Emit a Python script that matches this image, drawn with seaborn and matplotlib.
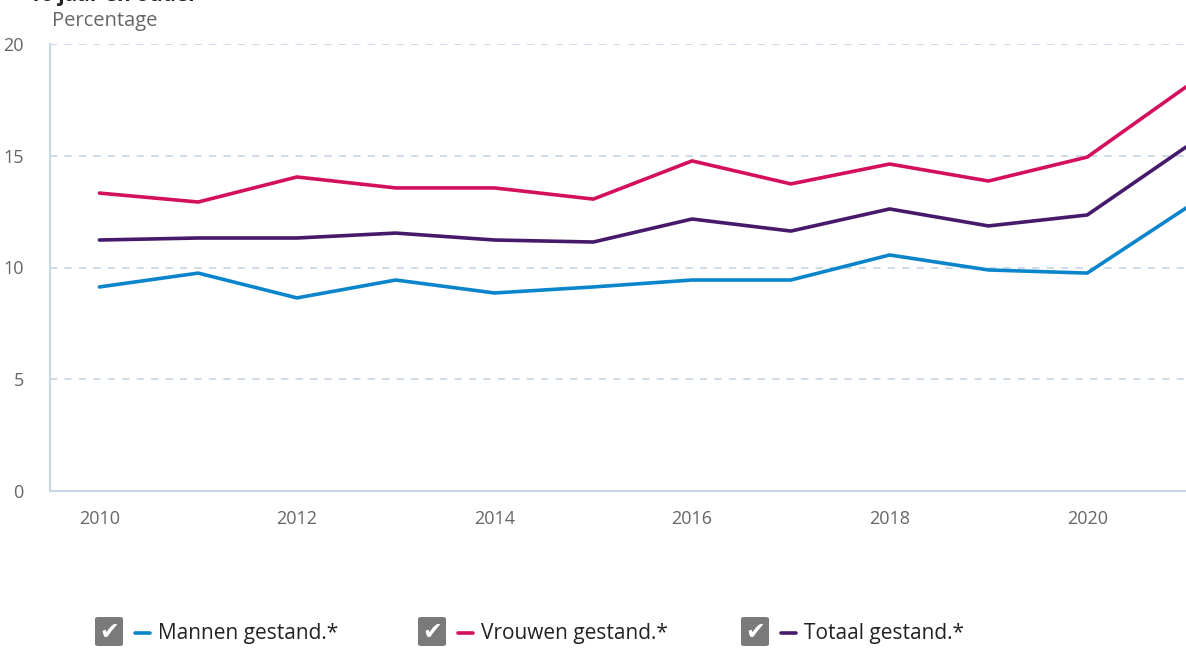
import numpy as np
import pandas as pd
import seaborn as sns
import matplotlib.pyplot as plt
from matplotlib.patches import FancyBboxPatch
from matplotlib.lines import Line2D

# Data
years = list(range(2010, 2022))
mannen = [9.13, 9.75, 8.64, 9.44, 8.86, 9.13, 9.44, 9.44, 10.56, 9.89, 9.75, 12.66]
vrouwen = [13.33, 12.93, 14.05, 13.56, 13.56, 13.06, 14.77, 13.74, 14.63, 13.87, 14.94, 18.08]
totaal = [11.23, 11.32, 11.32, 11.54, 11.23, 11.14, 12.17, 11.63, 12.62, 11.86, 12.35, 15.39]
series_names = ['Mannen gestand.*', 'Vrouwen gestand.*', 'Totaal gestand.*']
colors = ['#0a85cc', '#d30f5e', '#47196b']
y_ticks = [0, 5, 10, 15, 20]
x_ticks = [2010, 2012, 2014, 2016, 2018, 2020]

df = pd.DataFrame({'jaar': years, series_names[0]: mannen,
                   series_names[1]: vrouwen, series_names[2]: totaal})
long = df.melt(id_vars='jaar', var_name='serie', value_name='pct')

sns.set_style('white')
plt.rcParams['font.family'] = ['Open Sans', 'DejaVu Sans']

fig = plt.figure(figsize=(11.86, 6.49), dpi=100)
ax = fig.add_axes([50 / 1186, 158 / 649, 1 - 50 / 1186, 447 / 649])

sns.lineplot(data=long, x='jaar', y='pct', hue='serie', palette=colors,
             hue_order=series_names, linewidth=2.6, ax=ax, legend=False)

ax.set_xlim(2009.5, 2021.0)
ax.set_ylim(0, 20)
ax.set_yticks(y_ticks)
ax.set_xticks(x_ticks)
ax.set_xlabel('')
ax.set_ylabel('')

grid_c = '#c9d8e6'
for v in y_ticks[1:]:
    ax.axhline(v, color=grid_c, lw=1.3, ls=(0, (4, 4)), zorder=0)

for s in ['top', 'right']:
    ax.spines[s].set_visible(False)
for s in ['left', 'bottom']:
    ax.spines[s].set_color(grid_c)
    ax.spines[s].set_linewidth(1.5)

ax.tick_params(axis='y', length=0, pad=19, labelsize=13, labelcolor='#666666')
ax.tick_params(axis='x', length=5, width=1.5, color=grid_c, pad=11.5,
               labelsize=13, labelcolor='#666666', direction='inout')

fig.text(52 / 1186, 1 - 21 / 649, 'Percentage', fontsize=14.5, color='#666666',
         va='center', ha='left')
fig.text(198 / 1186, 1 - 1.5 / 649, '16 jaar en ouder', fontsize=15, fontweight='bold',
         color='#222222', va='baseline', ha='right')

# legend with checkboxes
legend_x = [95, 418, 741]
for lx, name, c in zip(legend_x, series_names, colors):
    box = FancyBboxPatch((lx / 1186, 1 - 646 / 649), 28 / 1186, 29 / 649,
                         boxstyle='round,pad=0,rounding_size=0.003',
                         transform=fig.transFigure, facecolor='#7a7a7a',
                         edgecolor='none')
    fig.patches.append(box)
    fig.text((lx + 14) / 1186, 1 - 632 / 649, '\u2714', color='white', fontsize=17,
             ha='center', va='center', family='DejaVu Sans')
    fig.lines.append(Line2D([(lx + 40) / 1186, (lx + 55) / 1186],
                            [1 - 633 / 649, 1 - 633 / 649],
                            transform=fig.transFigure, color=c, lw=2.6))
    fig.text((lx + 63) / 1186, 1 - 634 / 649, name, fontsize=15, color='#222222',
             ha='left', va='center')

fig.savefig('out.png', dpi=100)
